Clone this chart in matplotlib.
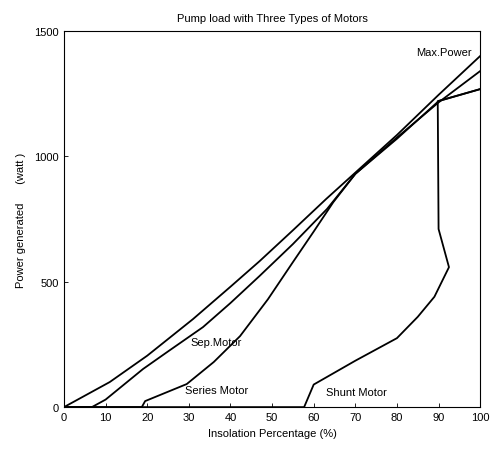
import matplotlib
matplotlib.use("Agg")
import matplotlib.pyplot as plt

plt.rcParams['font.family'] = ['Liberation Sans', 'DejaVu Sans']

# Insolation percentage (%) and power generated (watt) for each curve
max_x = [0, 11, 20, 31, 40, 47, 55, 63, 70, 80, 90, 100]
max_y = [0, 100, 205, 351, 480, 582, 705, 830, 935, 1085, 1245, 1400]

sep_x = [0, 6.7, 10, 19, 25, 33.4, 40, 47, 55, 63.2, 70, 80, 90, 100]
sep_y = [0, 0, 30, 152, 222, 319, 415, 523, 650, 790, 930, 1075, 1215, 1340]

series_x = [0, 18.7, 19.5, 29.5, 36, 42.3, 49, 55, 60, 64.7, 70, 80, 90, 100]
series_y = [0, 0, 24, 92, 180, 283, 430, 578, 700, 817, 930, 1070, 1220, 1268]

shunt_x = [0, 57.7, 60, 70, 80, 85, 89, 92.5, 90, 89.8, 100]
shunt_y = [0, 0, 90, 185, 275, 360, 440, 558, 710, 1220, 1268]

x_ticks = [0, 10, 20, 30, 40, 50, 60, 70, 80, 90, 100]
y_ticks = [0, 500, 1000, 1500]

fig = plt.figure(figsize=(4.92, 4.56), dpi=100)
ax = fig.add_axes([0.130, 0.105, 0.846, 0.825])

for xs, ys in [(max_x, max_y), (sep_x, sep_y), (series_x, series_y), (shunt_x, shunt_y)]:
    ax.plot(xs, ys, color='black', lw=1.3)

ax.set_xlim(0, 100)
ax.set_ylim(0, 1500)
ax.set_xticks(x_ticks)
ax.set_yticks(y_ticks)
ax.tick_params(direction='in', length=3, labelsize=8, width=0.6)
for s in ax.spines.values():
    s.set_linewidth(0.8)

ax.text(98, 1415, 'Max.Power', fontsize=8, ha='right', va='center')
ax.text(30.5, 240, 'Sep.Motor', fontsize=8, ha='left', va='bottom')
ax.text(29, 50, 'Series Motor', fontsize=8, ha='left', va='bottom')
ax.text(63, 40, 'Shunt Motor', fontsize=8, ha='left', va='bottom')

ax.set_title('Pump load with Three Types of Motors', fontsize=8, pad=7)
ax.set_xlabel('Insolation Percentage (%)', fontsize=8, labelpad=4)
ax.set_ylabel('Power generated      (watt )', fontsize=8, labelpad=6)

fig.savefig('out.png', dpi=100)
